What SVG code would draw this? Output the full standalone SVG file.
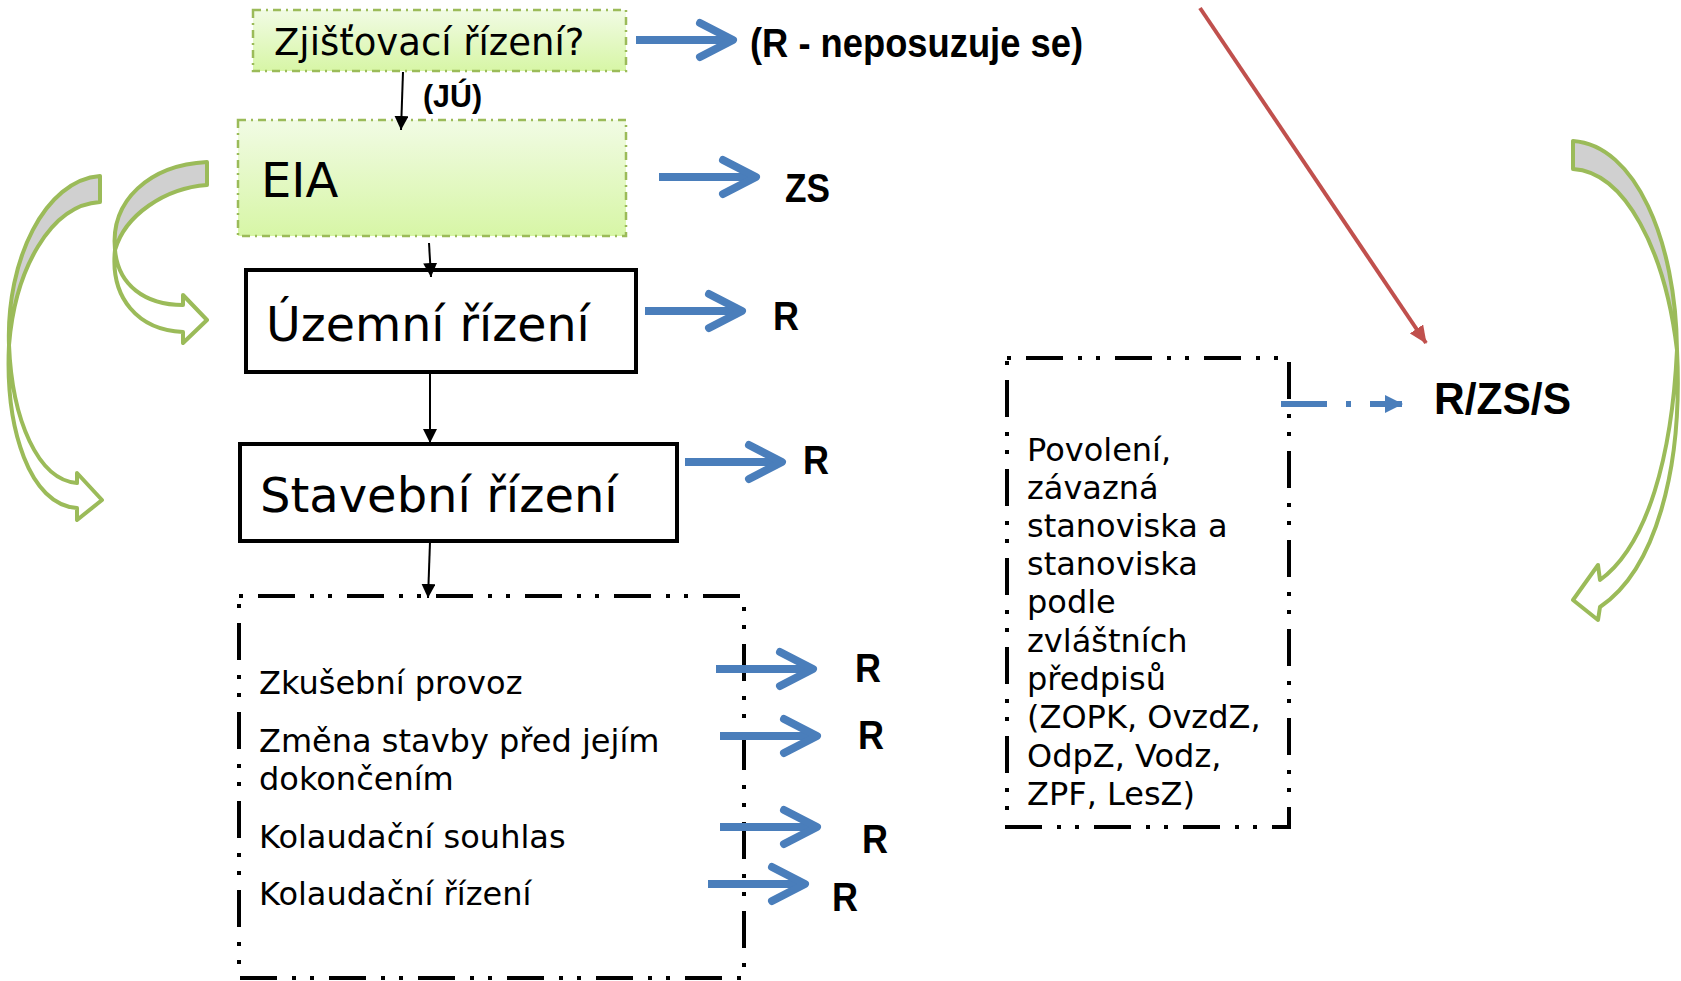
<svg xmlns="http://www.w3.org/2000/svg" width="1681" height="981" viewBox="0 0 1681 981">
<defs>
<linearGradient id="gg" x1="0" y1="0" x2="0" y2="1">
<stop offset="0" stop-color="#f1fbe4"/>
<stop offset="1" stop-color="#d7f6a6"/>
</linearGradient>
<marker id="ah" markerUnits="userSpaceOnUse" markerWidth="14" markerHeight="14" refX="14" refY="7" orient="auto"><path d="M0,0 L14,7 L0,14 Z" fill="#000"/></marker>
<marker id="ahr" markerUnits="userSpaceOnUse" markerWidth="18" markerHeight="16" refX="17" refY="8" orient="auto"><path d="M0,0 L18,8 L0,16 Z" fill="#c0504d"/></marker>
<marker id="ahb" markerUnits="userSpaceOnUse" markerWidth="18" markerHeight="18" refX="17" refY="9" orient="auto"><path d="M0,0 L18,9 L0,18 Z" fill="#4a7ebb"/></marker>
<g id="barrow">
<path d="M0,0 H93" fill="none" stroke="#4a7ebb" stroke-width="8"/>
<path d="M64,-17 L97,0 L64,17" fill="none" stroke="#4a7ebb" stroke-width="8" stroke-linecap="round" stroke-linejoin="round"/>
</g>
</defs>
<style>
.gbox{fill:url(#gg);stroke:#9bbb59;stroke-width:2.5;stroke-dasharray:8 5 2 5}
.sbox{fill:#fff;stroke:#000;stroke-width:4}
.dbox{fill:none;stroke:#000;stroke-width:4;stroke-dasharray:37 15 4 14 4 15}
.t{font-family:"DejaVu Sans",Verdana,sans-serif;fill:#000}
.b{font-family:"Liberation Sans",Arial,sans-serif;font-weight:bold;fill:#000}
.conn{stroke:#000;stroke-width:2;fill:none}
.gc{stroke:#9bbb59;stroke-width:4;stroke-linejoin:round}
</style>
<rect width="1681" height="981" fill="#fff"/>

<g id="curve-left-small">
<path class="gc" fill="#d0d0d0" d="M207,162 L207,185 C165,188 125,215 115,250 C110,200 150,165 207,162 Z"/>
<path class="gc" fill="#fff" d="M115,250 C118,285 145,305 183,305 L183,295 L207,320 L183,343 L183,332 C138,330 110,298 115,250 Z"/>
</g>
<g id="curve-left-big">
<path class="gc" fill="#d0d0d0" d="M100,176 L100,202 C50,205 15,270 9,345 C6,260 45,180 100,176 Z"/>
<path class="gc" fill="#fff" d="M9,345 C12,420 38,480 77,483 L77,473 L102,500 L77,520 L77,508 C30,505 5,430 9,345 Z"/>
</g>
<g id="curve-right-big">
<path class="gc" fill="#d0d0d0" d="M1573,141 L1573,169 C1625,172 1665,250 1677,350 C1676,240 1635,145 1573,141 Z"/>
<path class="gc" fill="#fff" d="M1677,350 C1683,470 1655,570 1600,607 L1598,620 L1573,600 L1598,565 L1600,580 C1648,545 1672,455 1677,350 Z"/>
</g>

<g id="n-zjistovaci">
<rect class="gbox" x="253" y="10" width="373" height="61"/>
<text class="t" x="274" y="55" font-size="37">Zjišťovací řízení?</text>
</g>
<g id="n-eia">
<rect class="gbox" x="238" y="120" width="388" height="116"/>
<text class="t" x="261" y="197" font-size="48">EIA</text>
</g>
<g id="n-uzemni">
<rect class="sbox" x="246" y="270" width="390" height="102"/>
<text class="t" x="266" y="341" font-size="47.5">Územní řízení</text>
</g>
<g id="n-stavebni">
<rect class="sbox" x="240" y="444" width="437" height="97"/>
<text class="t" x="260" y="512" font-size="48">Stavební řízení</text>
</g>
<g id="n-dalsi">
<rect class="dbox" x="239" y="596" width="505" height="382" stroke-dashoffset="70"/>
<text class="t" x="259" y="694" font-size="32">Zkušební provoz</text>
<text class="t" x="259" y="752" font-size="32">Změna stavby před jejím</text>
<text class="t" x="259" y="790" font-size="32">dokončením</text>
<text class="t" x="259" y="848" font-size="32">Kolaudační souhlas</text>
<text class="t" x="259" y="905" font-size="32">Kolaudační řízení</text>
</g>
<g id="n-povoleni">
<rect class="dbox" x="1007" y="358" width="282" height="469" stroke-dashoffset="70"/>
<text class="t" font-size="32">
<tspan x="1027" y="461">Povolení,</tspan>
<tspan x="1027" y="499">závazná</tspan>
<tspan x="1027" y="537">stanoviska a</tspan>
<tspan x="1027" y="575">stanoviska</tspan>
<tspan x="1027" y="613">podle</tspan>
<tspan x="1027" y="652">zvláštních</tspan>
<tspan x="1027" y="690">předpisů</tspan>
<tspan x="1027" y="728">(ZOPK, OvzdZ,</tspan>
<tspan x="1027" y="767">OdpZ, Vodz,</tspan>
<tspan x="1027" y="805">ZPF, LesZ)</tspan>
</text>
</g>

<g id="labels">
<text class="b" x="750" y="57" font-size="41" textLength="333" lengthAdjust="spacingAndGlyphs">(R - neposuzuje se)</text>
<text class="b" x="423" y="107" font-size="31" textLength="59" lengthAdjust="spacingAndGlyphs">(JÚ)</text>
<text class="b" x="785" y="202" font-size="41" textLength="45" lengthAdjust="spacingAndGlyphs">ZS</text>
<text class="b" x="773" y="330" font-size="40" textLength="26" lengthAdjust="spacingAndGlyphs">R</text>
<text class="b" x="803" y="474" font-size="40" textLength="26" lengthAdjust="spacingAndGlyphs">R</text>
<text class="b" x="855" y="682" font-size="40" textLength="26" lengthAdjust="spacingAndGlyphs">R</text>
<text class="b" x="858" y="749" font-size="40" textLength="26" lengthAdjust="spacingAndGlyphs">R</text>
<text class="b" x="862" y="853" font-size="40" textLength="26" lengthAdjust="spacingAndGlyphs">R</text>
<text class="b" x="832" y="911" font-size="40" textLength="26" lengthAdjust="spacingAndGlyphs">R</text>
<text class="b" x="1434" y="414" font-size="45" textLength="137" lengthAdjust="spacingAndGlyphs">R/ZS/S</text>
</g>

<g id="connectors">
<line class="conn" x1="403" y1="72" x2="401" y2="130" marker-end="url(#ah)"/>
<line class="conn" x1="429" y1="243" x2="431" y2="277" marker-end="url(#ah)"/>
<line class="conn" x1="430" y1="373" x2="430" y2="443" marker-end="url(#ah)"/>
<line class="conn" x1="430" y1="542" x2="428" y2="598" marker-end="url(#ah)"/>
<line x1="1200" y1="8" x2="1426" y2="343" stroke="#c0504d" stroke-width="4" marker-end="url(#ahr)"/>
<line x1="1281" y1="404" x2="1402" y2="404" stroke="#4a7ebb" stroke-width="6" stroke-dasharray="46 19 5 19" marker-end="url(#ahb)"/>
<use href="#barrow" x="636" y="40"/>
<use href="#barrow" x="659" y="177"/>
<use href="#barrow" x="645" y="311"/>
<use href="#barrow" x="685" y="462"/>
<use href="#barrow" x="716" y="669"/>
<use href="#barrow" x="720" y="736"/>
<use href="#barrow" x="720" y="827"/>
<use href="#barrow" x="708" y="884"/>
</g>
</svg>
